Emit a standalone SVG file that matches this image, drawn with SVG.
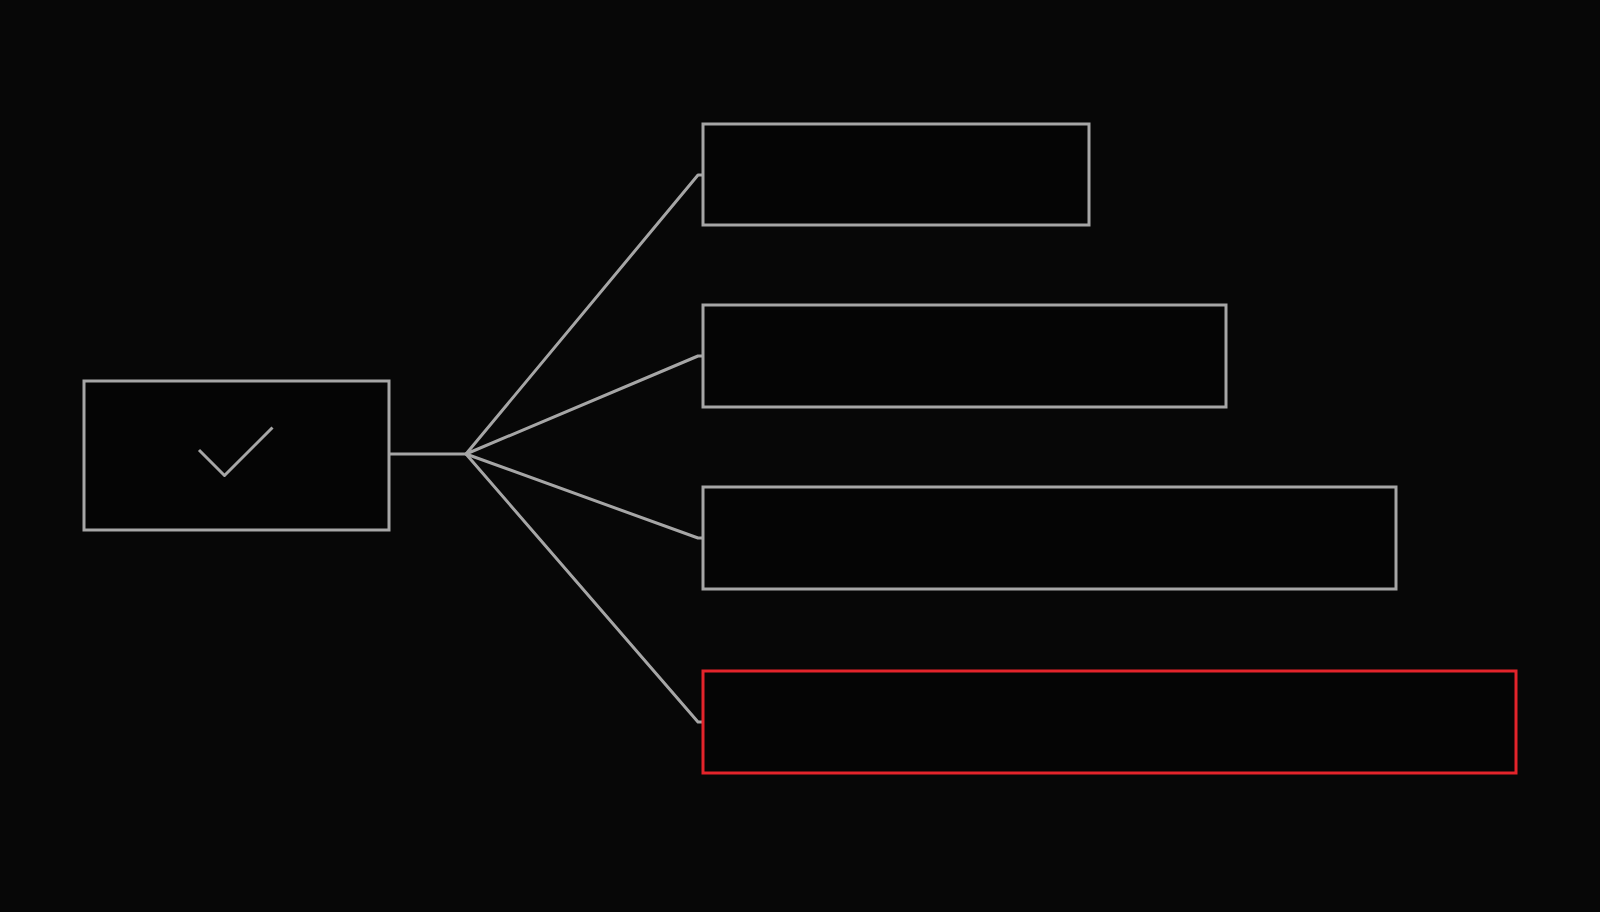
<svg xmlns="http://www.w3.org/2000/svg" width="1600" height="912" viewBox="0 0 1600 912">
  <style>
    .node { fill: #050505; stroke: #a6a6a6; stroke-width: 3; }
    .alert { stroke: #e3242b; }
    .conn { fill: none; stroke: #a6a6a6; stroke-width: 3; stroke-linejoin: round; }
  </style>
  <rect x="0" y="0" width="1600" height="912" fill="#070707"/>
  <g id="connectors">
    <path class="conn" d="M389 454 L466 454"/>
    <path class="conn" d="M466 454 L698 175 L703 175"/>
    <path class="conn" d="M466 454 L698 356 L703 356"/>
    <path class="conn" d="M466 454 L698 538 L703 538"/>
    <path class="conn" d="M466 454 L698 722 L703 722"/>
  </g>
  <g id="source">
    <rect class="node" x="84" y="381" width="305" height="149"/>
    <path class="conn" d="M199 450 L224.5 475.5 L272.5 427.5" stroke-linejoin="miter"/>
  </g>
  <g id="item1">
    <rect class="node" x="703" y="124" width="386" height="101"/>
  </g>
  <g id="item2">
    <rect class="node" x="703" y="305" width="523" height="102"/>
  </g>
  <g id="item3">
    <rect class="node" x="703" y="487" width="693" height="102"/>
  </g>
  <g id="item4">
    <rect class="node alert" x="703" y="671" width="813" height="102"/>
  </g>
</svg>
